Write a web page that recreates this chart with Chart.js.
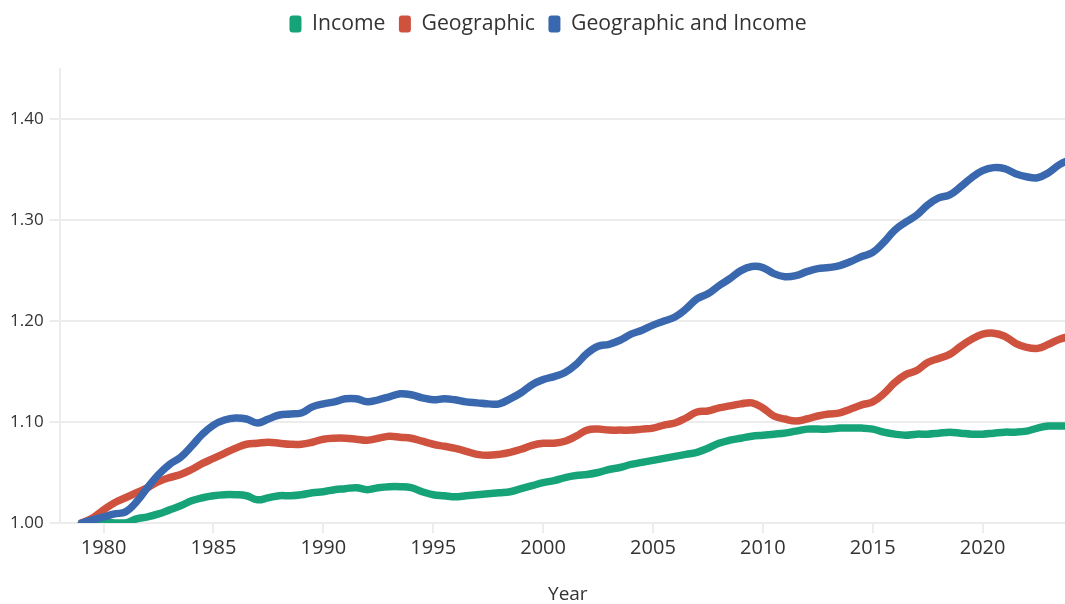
<!DOCTYPE html>
<html>
<head>
<meta charset="utf-8">
<script src="https://cdn.jsdelivr.net/npm/chart.js@4.4.1/dist/chart.umd.min.js"></script>
<style>
  html, body { margin:0; padding:0; background:#fff; overflow:hidden; }
  #wrap { position:relative; width:1097px; height:604px; }
</style>
</head>
<body>
<div id="wrap"><canvas id="chart"></canvas></div>
<script>
/* ── DATA ── */
const years = [
  1979,1979.5,1980,1980.5,1981,1981.5,1982,1982.5,1983,1983.5,
  1984,1984.5,1985,1985.5,1986,1986.5,1987,1987.5,1988,1988.5,
  1989,1989.5,1990,1990.5,1991,1991.5,1992,1992.5,1993,1993.5,
  1994,1994.5,1995,1995.5,1996,1996.5,1997,1997.5,1998,1998.5,
  1999,1999.5,2000,2000.5,2001,2001.5,2002,2002.5,2003,2003.5,
  2004,2004.5,2005,2005.5,2006,2006.5,2007,2007.5,2008,2008.5,
  2009,2009.5,2010,2010.5,2011,2011.5,2012,2012.5,2013,2013.5,
  2014,2014.5,2015,2015.5,2016,2016.5,2017,2017.5,2018,2018.5,
  2019,2019.5,2020,2020.5,2021,2021.5,2022,2022.5,2023,2023.5,
  2024
];

const income = [
  1.000,1.001,1.001,1.000,1.000,1.004,1.006,1.009,1.013,1.017,
  1.022,1.025,1.027,1.028,1.028,1.027,1.023,1.025,1.027,1.027,
  1.028,1.030,1.031,1.033,1.034,1.035,1.033,1.035,1.036,1.036,
  1.035,1.031,1.028,1.027,1.026,1.027,1.028,1.029,1.030,1.031,
  1.034,1.037,1.040,1.042,1.045,1.047,1.048,1.050,1.053,1.055,
  1.058,1.060,1.062,1.064,1.066,1.068,1.070,1.074,1.079,1.082,
  1.084,1.086,1.087,1.088,1.089,1.091,1.093,1.093,1.093,1.094,
  1.094,1.094,1.093,1.090,1.088,1.087,1.088,1.088,1.089,1.090,
  1.089,1.088,1.088,1.089,1.090,1.090,1.091,1.094,1.096,1.096,
  1.096
];

const geographic = [
  1.000,1.005,1.013,1.020,1.025,1.030,1.035,1.041,1.045,1.048,
  1.053,1.059,1.064,1.069,1.074,1.078,1.079,1.080,1.079,1.078,
  1.078,1.080,1.083,1.084,1.084,1.083,1.082,1.084,1.086,1.085,
  1.084,1.081,1.078,1.076,1.074,1.071,1.068,1.067,1.068,1.070,
  1.073,1.077,1.079,1.079,1.081,1.086,1.092,1.093,1.092,1.092,
  1.092,1.093,1.094,1.097,1.099,1.104,1.110,1.111,1.114,1.116,
  1.118,1.119,1.114,1.106,1.103,1.101,1.103,1.106,1.108,1.109,
  1.113,1.117,1.120,1.128,1.139,1.147,1.151,1.159,1.163,1.167,
  1.175,1.182,1.187,1.188,1.185,1.178,1.174,1.173,1.177,1.182,
  1.185
];

const geoIncome = [
  1.000,1.003,1.006,1.009,1.011,1.021,1.035,1.048,1.058,1.065,
  1.076,1.088,1.097,1.102,1.104,1.103,1.099,1.103,1.107,1.108,
  1.109,1.115,1.118,1.120,1.123,1.123,1.120,1.122,1.125,1.128,
  1.127,1.124,1.122,1.123,1.122,1.120,1.119,1.118,1.118,1.123,
  1.129,1.137,1.142,1.145,1.149,1.157,1.168,1.175,1.177,1.181,
  1.187,1.191,1.196,1.200,1.204,1.212,1.222,1.227,1.235,1.242,
  1.250,1.254,1.253,1.247,1.244,1.245,1.249,1.252,1.253,1.255,
  1.259,1.264,1.268,1.278,1.290,1.298,1.305,1.315,1.322,1.325,
  1.333,1.342,1.349,1.352,1.351,1.346,1.343,1.342,1.347,1.355,
  1.360
];

const seriesNames  = ['Income','Geographic','Geographic and Income'];
const seriesColors = ['#16a378','#cf523e','#3a68ae'];

/* ── CHART ── */
const FONT = '"Open Sans", Lato, sans-serif';
const TXT  = '#333';
const GRID = '#ececec';

const toPts = arr => arr.map((v,i)=>({x:years[i], y:v}));

// push the plot area down below the legend, nudge legend to the right
const legendGap = {
  id:'legendGap',
  beforeInit(chart){
    const fit = chart.legend.fit;
    chart.legend.fit = function(){ fit.bind(chart.legend)(); this.height += 24; };
  },
  afterLayout(chart){
    chart.legend.left += 8; chart.legend.right += 8;
  }
};

const sets = [income, geographic, geoIncome].map((arr,i)=>({
  label: seriesNames[i],
  data: toPts(arr),
  borderColor: seriesColors[i],
  backgroundColor: seriesColors[i],
  borderWidth: 7.5,
  pointRadius: 0,
  pointHoverRadius: 0,
  tension: 0.4,
  fill: false,
  borderCapStyle: 'round',
  borderJoinStyle: 'round',
  order: 3 - i
}));

new Chart(document.getElementById('chart').getContext('2d'), {
  type: 'line',
  data: { datasets: sets },
  plugins: [legendGap],
  options: {
    responsive: true, maintainAspectRatio: false, animation: false,
    layout: { padding: { left: 4, right: 21, top: 0, bottom: 0 } },
    plugins: {
      tooltip: { enabled: false },
      legend: {
        position: 'top',
        labels: {
          font: { family: FONT, size: 21.2 }, color: TXT,
          boxWidth: 12, boxHeight: 17, padding: 13.5,
          useBorderRadius: true, borderRadius: 3,
          sort: (a,b)=>a.datasetIndex-b.datasetIndex,
          generateLabels: chart => Chart.defaults.plugins.legend.labels.generateLabels(chart)
            .map(l=>({...l, lineWidth: 0}))
        }
      }
    },
    scales: {
      x: {
        type: 'linear', min: 1978, max: 2024.25,
        ticks: { stepSize: 5, includeBounds: false, maxRotation: 0, padding: 3,
                 color: TXT, font: { family: FONT, size: 20 }, callback: v=>String(v) },
        grid: { drawOnChartArea: false, drawTicks: true, tickLength: 10, color: GRID, lineWidth: 2 },
        border: { display: false },
        title: { display: true, text: 'Year', color: TXT,
                 font: { family: FONT, size: 19, lineHeight: 1 }, padding: { top: 22, bottom: 0 } }
      },
      y: {
        min: 1.0, max: 1.45,
        ticks: { stepSize: 0.1, includeBounds: false, padding: 6,
                 color: TXT, font: { family: FONT, size: 17 }, callback: v=>v.toFixed(2) },
        grid: { color: GRID, lineWidth: 2, tickLength: 10, drawTicks: true },
        border: { display: true, color: GRID, width: 2 }
      }
    }
  }
});
</script>
</body>
</html>
